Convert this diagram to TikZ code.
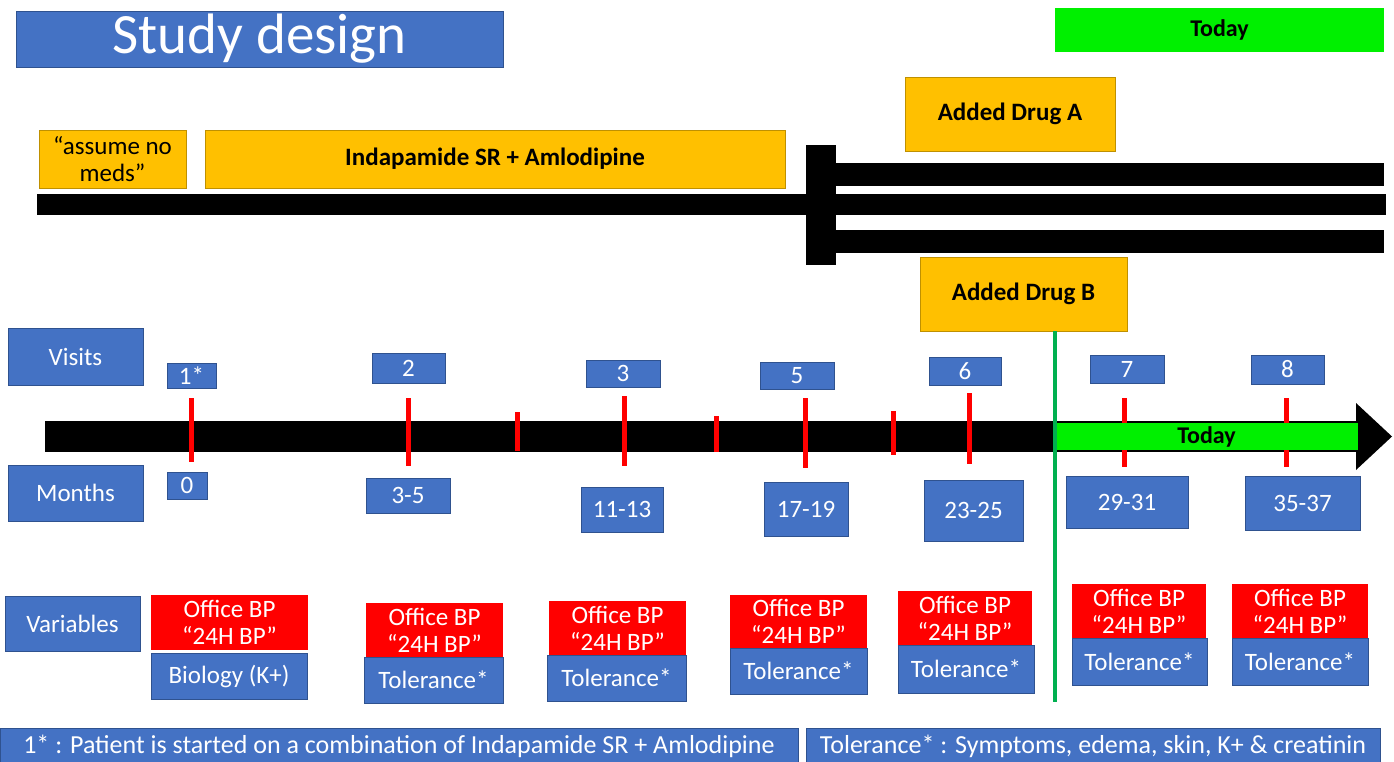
\documentclass[tikz,border=0pt]{standalone}
\usepackage{fontspec}
\setmainfont{Carlito}
\definecolor{myblue}{HTML}{4472C4}
\definecolor{blueedge}{HTML}{2F528F}
\definecolor{myorange}{HTML}{FFC000}
\definecolor{orangeedge}{HTML}{BF9000}
\definecolor{myred}{HTML}{FF0000}
\definecolor{brightgreen}{HTML}{00F000}
\definecolor{linegreen}{HTML}{00B050}
\begin{document}
\begin{tikzpicture}[x=1pt,y=-1pt,
  every node/.style={inner sep=0pt, outer sep=0pt, align=center},
  lbl/.style={font=\fontsize{25}{27}\selectfont},
  sz/.style 2 args={minimum width=#1pt, minimum height=#2pt},
  bluebox/.style={lbl, draw=blueedge, line width=0.8pt, fill=myblue, text=white},
  orangebox/.style={font=\bfseries\fontsize{25}{27}\selectfont, draw=orangeedge, line width=0.8pt, fill=myorange, text=black},
  plainorange/.style={lbl, draw=orangeedge, line width=0.8pt, fill=myorange, text=black},
  redbox/.style={lbl, fill=myred, text=white},
  greenbox/.style={font=\bfseries\fontsize{24}{26}\selectfont, fill=brightgreen, text=black},
  footbox/.style={bluebox, font=\fontsize{26}{28}\selectfont},
  bar/.style={fill=black},
  tick/.style={draw=myred, line width=5pt},
  todayline/.style={draw=linegreen, line width=4pt}
]
\useasboundingbox (0,0) rectangle (1394,762);
\fill[white] (0,0) rectangle (1394,762);

% title and today
\node[bluebox, sz={487}{56}, font=\fontsize{57}{60}\selectfont] (title) at (259.5,39) {Study design};
\node[greenbox, sz={329}{44}] (todaytop) at (1219.5,30) {Today};

% treatment bars
\fill[bar] (37,194) rectangle (1386,215);
\fill[bar] (806,145) rectangle (836,265);
\fill[bar] (836,163) rectangle (1384,186);
\fill[bar] (836,230) rectangle (1384,253);

\node[plainorange, sz={147}{58}] (nomeds) at (112.5,159) {“assume no\\meds”};
\node[orangebox, sz={580}{58}] (indap) at (495,159) {Indapamide SR + Amlodipine};
\node[orangebox, sz={210}{74}] (drugA) at (1010,114) {Added Drug A};
\node[orangebox, sz={207}{74}] (drugB) at (1023.5,294) {Added Drug B};

% row labels
\node[bluebox, sz={135}{57}] (visits) at (75.5,356.5) {Visits};
\node[bluebox, sz={135}{56}] (months) at (75.5,493) {Months};
\node[bluebox, sz={135}{55}] (variables) at (72.5,623.5) {Variables};

% timeline
\fill[bar] (45,421) rectangle (1358,452);
\fill[bar] (1356,403) -- (1392,436.5) -- (1356,470) -- cycle;
\draw[tick] (191,398) -- (191,462);
\draw[tick] (408,398) -- (408,466);
\draw[tick] (517,412) -- (517,451);
\draw[tick] (624,396) -- (624,466);
\draw[tick] (716,416) -- (716,452);
\draw[tick] (805,398) -- (805,468);
\draw[tick] (893,411) -- (893,455);
\draw[tick] (969,393) -- (969,464);
\draw[tick] (1124,398) -- (1124,467);
\draw[tick] (1286,398) -- (1286,467);
\node[greenbox, sz={303}{27}] (todaybar) at (1206.5,436.5) {Today};

% today line
\coordinate (gbot) at (1055,702);
\draw[todayline] (drugB.south -| gbot) -- (gbot);

% visits
\node[bluebox, sz={49}{25}] (v1) at (191.5,375.5) {1*};
\node[bluebox, sz={73}{30}] (v2) at (408.5,368) {2};
\node[bluebox, sz={74}{27}] (v3) at (623,373.5) {3};
\node[bluebox, sz={74}{27}] (v5) at (797,375.5) {5};
\node[bluebox, sz={72}{28}] (v6) at (965,371) {6};
\node[bluebox, sz={74}{28}] (v7) at (1127,369) {7};
\node[bluebox, sz={73}{29}] (v8) at (1287.5,369.5) {8};

% months
\node[bluebox, sz={40}{27}] (m0) at (187,485.5) {0};
\node[bluebox, sz={84}{35}] (m2) at (408,495.5) {3-5};
\node[bluebox, sz={82}{45}] (m3) at (622,509.5) {11-13};
\node[bluebox, sz={84}{54}] (m5) at (806,509) {17-19};
\node[bluebox, sz={99}{61}] (m6) at (973.5,510.5) {23-25};
\node[bluebox, sz={122}{52}] (m7) at (1127,502) {29-31};
\node[bluebox, sz={115}{54}] (m8) at (1302.5,503) {35-37};

% variables
\node[redbox, sz={157}{55}] (r1) at (229.5,622.5) {Office BP\\“24H BP”};
\node[bluebox, sz={156}{46}] (b1) at (229,676) {Biology (K+)};
\node[redbox, sz={137}{54}] (r2) at (434.5,630) {Office BP\\“24H BP”};
\node[bluebox, sz={139}{46}] (b2) at (433.5,680) {Tolerance*};
\node[redbox, sz={137}{54}] (r3) at (617.5,628) {Office BP\\“24H BP”};
\node[bluebox, sz={139}{46}] (b3) at (616.5,678) {Tolerance*};
\node[redbox, sz={137}{53}] (r5) at (798.5,621.5) {Office BP\\“24H BP”};
\node[bluebox, sz={137}{46}] (b5) at (798.5,671) {Tolerance*};
\node[redbox, sz={134}{54}] (r6) at (965,618) {Office BP\\“24H BP”};
\node[bluebox, sz={136}{48}] (b6) at (966,669) {Tolerance*};
\node[redbox, sz={134}{54}] (r7) at (1139,611) {Office BP\\“24H BP”};
\node[bluebox, sz={135}{47}] (b7) at (1139.5,661.5) {Tolerance*};
\node[redbox, sz={136}{54}] (r8) at (1300,611) {Office BP\\“24H BP”};
\node[bluebox, sz={136}{47}] (b8) at (1300,661.5) {Tolerance*};

% footers
\node[footbox, sz={798}{36}] (foot1) at (399,746) {1* : Patient is started on a combination of Indapamide SR + Amlodipine};
\node[footbox, sz={574}{36}] (foot2) at (1093,746) {Tolerance* : Symptoms, edema, skin, K+ \& creatinin};
\end{tikzpicture}
\end{document}
